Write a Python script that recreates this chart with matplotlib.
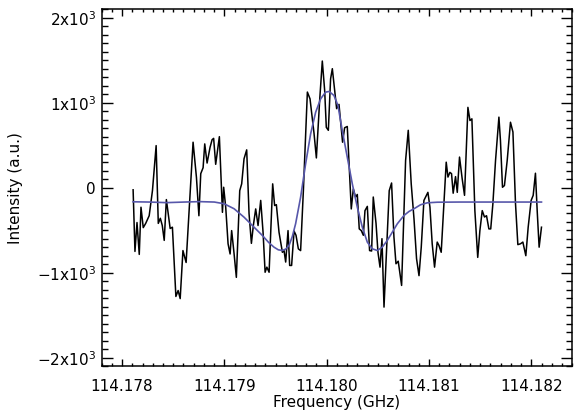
import matplotlib
matplotlib.use("Agg")
import matplotlib.pyplot as plt
from matplotlib.ticker import FixedLocator, MultipleLocator, FixedFormatter

# observed spectrum (GHz, a.u.)
freq = [114.178108, 114.178126, 114.178146, 114.178168, 114.178185, 114.178207, 114.178231,
        114.178265, 114.178297, 114.178333, 114.178354, 114.178374, 114.178393, 114.178412,
        114.178433, 114.178451, 114.178470, 114.178492, 114.178526, 114.178548, 114.178568,
        114.178595, 114.178626, 114.178694, 114.178727, 114.178751, 114.178769, 114.178792,
        114.178808, 114.178831, 114.178860, 114.178880, 114.178895, 114.178915, 114.178951,
        114.178981, 114.178993, 114.179013, 114.179036, 114.179056, 114.179071, 114.179095,
        114.179117, 114.179150, 114.179169, 114.179192, 114.179218, 114.179241, 114.179264,
        114.179283, 114.179306, 114.179329, 114.179355, 114.179378, 114.179398, 114.179415,
        114.179437, 114.179472, 114.179491, 114.179508, 114.179534, 114.179567, 114.179583,
        114.179599, 114.179622, 114.179638, 114.179657, 114.179681, 114.179700, 114.179723,
        114.179745, 114.179772, 114.179811, 114.179837, 114.179876, 114.179899, 114.179931,
        114.179957, 114.179980, 114.179996, 114.180016, 114.180038, 114.180055, 114.180071,
        114.180097, 114.180120, 114.180155, 114.180175, 114.180201, 114.180221, 114.180240,
        114.180260, 114.180282, 114.180299, 114.180318, 114.180338, 114.180358, 114.180374,
        114.180397, 114.180419, 114.180439, 114.180455, 114.180482, 114.180501, 114.180521,
        114.180540, 114.180560, 114.180585, 114.180611, 114.180634, 114.180657, 114.180677,
        114.180699, 114.180732, 114.180771, 114.180797, 114.180826, 114.180853, 114.180878,
        114.180902, 114.180924, 114.180950, 114.180966, 114.180989, 114.181009, 114.181031,
        114.181054, 114.181080, 114.181097, 114.181119, 114.181146, 114.181168, 114.181185,
        114.181204, 114.181220, 114.181236, 114.181259, 114.181276, 114.181298, 114.181324,
        114.181347, 114.181380, 114.181400, 114.181419, 114.181448, 114.181476, 114.181497,
        114.181520, 114.181542, 114.181562, 114.181585, 114.181603, 114.181624, 114.181650,
        114.181683, 114.181698, 114.181718, 114.181737, 114.181764, 114.181796, 114.181820,
        114.181845, 114.181868, 114.181894, 114.181917, 114.181946, 114.181969, 114.181998,
        114.182018, 114.182040, 114.182057, 114.182076, 114.182099]
intensity = [-25, -750, -410, -785, -230, -470, -420, -330, -35, 495, -420, -360, -445, -620,
             -140, -305, -480, -465, -1280, -1210, -1305, -740, -880, 535, 120, -330, 165, 235,
             515, 290, 475, 565, 580, 275, 600, -290, 5, -230, -660, -780, -505, -780, -1055,
             -35, 45, 340, 445, -305, -655, -445, -250, -445, -150, -525, -995, -935, -995, 45,
             -210, -200, -525, -760, -740, -875, -505, -915, -915, -510, -560, -720, -740, -35,
             1125, 1045, 640, 350, 1025, 1490, 1145, 710, 675, 1280, 1400, 1220, 930, 980, 535,
             705, 720, 225, -250, -15, -110, -80, -485, -505, -560, -270, -220, -740, -745, -110,
             -420, -760, -935, -600, -1405, -740, -35, 55, -580, -895, -865, -1150, 320, 675, 45,
             -365, -835, -1035, -700, -150, -110, -55, -230, -660, -935, -640, -680, -760, -185,
             300, 125, 180, 165, -65, 130, -55, 360, 105, -90, 945, 790, 810, -270, -820, -505,
             -270, -345, -330, -485, -485, -190, 320, 830, 555, 5, 25, 320, 770, 655, -185, -670,
             -660, -640, -800, -465, -150, -90, 170, -270, -700, -465]

# fitted profile
fit_freq = [114.178108, 114.178268, 114.178434, 114.178609, 114.178756, 114.178902, 114.178997,
            114.179095, 114.179192, 114.179290, 114.179371, 114.179430, 114.179485, 114.179527,
            114.179567, 114.179601, 114.179632, 114.179664, 114.179696, 114.179745, 114.179794,
            114.179843, 114.179892, 114.179941, 114.179989, 114.180023, 114.180071, 114.180110,
            114.180152, 114.180201, 114.180250, 114.180299, 114.180348, 114.180397, 114.180445,
            114.180494, 114.180543, 114.180592, 114.180641, 114.180690, 114.180755, 114.180804,
            114.180853, 114.180917, 114.180983, 114.181080, 114.181295, 114.181686, 114.182099]
fit_intensity = [-166, -169, -176, -169, -164, -169, -189, -248, -347, -465, -562, -641, -700,
                 -731, -739, -721, -680, -574, -425, -112, 281, 634, 888, 1046, 1124, 1132, 1085,
                 967, 673, 359, 46, -229, -465, -641, -719, -739, -700, -621, -524, -425, -327,
                 -280, -248, -201, -178, -171, -169, -169, -169]

xticks = [114.178, 114.179, 114.180, 114.181, 114.182]
xticklabels = ['114.178', '114.179', '114.180', '114.181', '114.182']
yticks = [-2000, -1000, 0, 1000, 2000]
yticklabels = ['\u22122x10$^3$', '\u22121x10$^3$', '0', '1x10$^3$', '2x10$^3$']

plt.rcParams['font.family'] = 'DejaVu Sans'
plt.rcParams['mathtext.fontset'] = 'dejavusans'

fig = plt.figure(figsize=(5.74, 4.18), dpi=100)
ax = fig.add_axes([0.177, 0.124, 0.820, 0.854])

ax.plot(freq, intensity, color='black', lw=1.1)
ax.plot(fit_freq, fit_intensity, color='#5757aa', lw=1.2)

ax.set_xlim(114.1778, 114.1824)
ax.set_ylim(-2100, 2100)

ax.xaxis.set_major_locator(FixedLocator(xticks))
ax.xaxis.set_major_formatter(FixedFormatter(xticklabels))
ax.xaxis.set_minor_locator(MultipleLocator(0.0001))
ax.yaxis.set_major_locator(FixedLocator(yticks))
ax.yaxis.set_major_formatter(FixedFormatter(yticklabels))
ax.yaxis.set_minor_locator(MultipleLocator(100))

ax.tick_params(which='both', direction='in', top=True, right=True, width=1.0, labelsize=11)
ax.tick_params(axis='x', which='major', length=5, pad=9)
ax.tick_params(axis='x', which='minor', length=2.5)
ax.tick_params(axis='y', which='major', length=8, pad=4)
ax.tick_params(axis='y', which='minor', length=4)
for s in ax.spines.values():
    s.set_linewidth(1.1)

ax.set_xlabel('Frequency (GHz)', fontsize=11, labelpad=1)
ax.set_ylabel('Intensity (a.u.)', fontsize=11, labelpad=10)

fig.savefig('out.png', dpi=100)
